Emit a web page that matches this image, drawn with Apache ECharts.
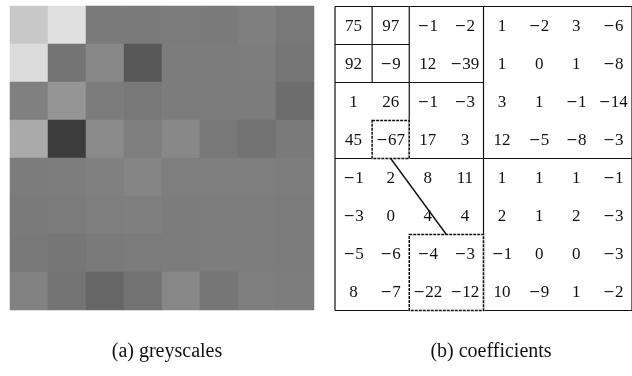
<!DOCTYPE html>
<html>
<head>
<meta charset="utf-8">
<script src="https://cdn.jsdelivr.net/npm/echarts@6/dist/echarts.min.js"></script>
<style>
  html, body { margin: 0; padding: 0; background: #fff; }
  #chart { width: 632px; height: 376px; }
</style>
</head>
<body>
<div id="chart"></div>
<script>
// 8x8 block: pixel grey levels (0 = black, 255 = white), row by row from the top
const greyRows = [
  [200, 224, 122, 122, 123, 122, 127, 120],
  [220, 116, 136,  88, 124, 124, 125, 118],
  [128, 149, 124, 120, 124, 124, 124, 109],
  [170,  60, 138, 126, 136, 120, 114, 122],
  [124, 125, 128, 133, 126, 126, 126, 125],
  [122, 123, 126, 127, 124, 125, 125, 123],
  [120, 118, 122, 123, 124, 125, 125, 124],
  [129, 116, 102, 114, 135, 118, 126, 125]
];

// Haar wavelet coefficients of the same block
const coeffRows = [
  [75,  97,  -1,  -2,  1, -2,  3,  -6],
  [92,  -9,  12, -39,  1,  0,  1,  -8],
  [ 1,  26,  -1,  -3,  3,  1, -1, -14],
  [45, -67,  17,   3, 12, -5, -8,  -3],
  [-1,   2,   8,  11,  1,  1,  1,  -1],
  [-3,   0,   4,   4,  2,  1,  2,  -3],
  [-5,  -6,  -4,  -3, -1,  0,  0,  -3],
  [ 8,  -7, -22, -12, 10, -9,  1,  -2]
];

// coefficient whose children (next finer level) are outlined
const parentCell = [3, 1]; // [row, col]

// wavelet decomposition levels shown by the partition rules
const levels = 3;

const captions = ['(a) greyscales', '(b) coefficients'];

const N = greyRows.length;
const idx = Array.from({ length: N }, (_, i) => String(i));

const heatData = [];
greyRows.forEach((row, r) => row.forEach((v, c) => heatData.push([c, r, v])));

const textData = [];
coeffRows.forEach((row, r) => row.forEach((v, c) => textData.push([c + 0.5, r + 0.5, v])));

// partition rules for each level: [x1, y1, x2, y2] in cell units
const ruleData = [];
ruleData.push([0, 0, N, 0], [0, N, N, N], [0, 0, 0, N], [N, 0, N, N]);
for (let k = 1; k <= levels; k++) {
  const s = N / Math.pow(2, k);
  ruleData.push([s, 0, s, 2 * s]);
  ruleData.push([0, s, 2 * s, s]);
}

const chart = echarts.init(document.getElementById('chart'), null, { renderer: 'canvas' });

const serif = 'Liberation Serif';
const ink = '#111';

chart.setOption({
  animation: false,
  backgroundColor: '#fff',
  grid: [
    { left: 10, top: 6, width: 304, height: 304 },
    { left: 335, top: 6.5, width: 304, height: 304 }
  ],
  xAxis: [
    { type: 'category', data: idx, gridIndex: 0, show: false },
    { type: 'value', min: 0, max: N, gridIndex: 1, show: false }
  ],
  yAxis: [
    { type: 'category', data: idx, gridIndex: 0, inverse: true, show: false },
    { type: 'value', min: 0, max: N, gridIndex: 1, inverse: true, show: false }
  ],
  visualMap: {
    show: false, min: 0, max: 255, seriesIndex: 0, dimension: 2,
    inRange: { color: ['#000000', '#ffffff'] }
  },
  title: [
    { text: captions[0], left: 162, textAlign: 'center', top: 337,
      textStyle: { fontFamily: serif, fontSize: 20, fontWeight: 'normal', color: ink } },
    { text: captions[1], left: 486, textAlign: 'center', top: 337,
      textStyle: { fontFamily: serif, fontSize: 20, fontWeight: 'normal', color: ink } }
  ],
  series: [
    {
      type: 'heatmap', xAxisIndex: 0, yAxisIndex: 0, data: heatData,
      itemStyle: { borderWidth: 0 }, emphasis: { disabled: true }
    },
    {
      // partition rules of the wavelet levels
      type: 'custom', xAxisIndex: 1, yAxisIndex: 1, data: ruleData, silent: true,
      renderItem(params, api) {
        const a = api.coord([api.value(0), api.value(1)]);
        const b = api.coord([api.value(2), api.value(3)]);
        return { type: 'line', shape: { x1: a[0], y1: a[1], x2: b[0], y2: b[1] },
          style: { stroke: ink, lineWidth: 1.2 } };
      }
    },
    {
      // outline of a coefficient and its four children, with the connector
      type: 'custom', xAxisIndex: 1, yAxisIndex: 1, data: [parentCell], silent: true,
      renderItem(params, api) {
        const r = api.value(0), c = api.value(1);
        const p0 = api.coord([c, r]), p1 = api.coord([c + 1, r + 1]);
        const q0 = api.coord([2 * c, 2 * r]), q1 = api.coord([2 * c + 2, 2 * r + 2]);
        const boxes = [[p0, p1], [q0, q1]];
        const children = [];
        boxes.forEach(([u, v]) => {
          const shape = { x: u[0], y: u[1], width: v[0] - u[0], height: v[1] - u[1] };
          children.push({ type: 'rect', shape, style: { fill: null, stroke: '#fff', lineWidth: 1.6 } });
          children.push({ type: 'rect', shape, style: { fill: null, stroke: ink, lineWidth: 1.5, lineDash: [3, 1] } });
        });
        children.push({ type: 'line',
          shape: { x1: (p0[0] + p1[0]) / 2, y1: p1[1], x2: (q0[0] + q1[0]) / 2, y2: q0[1] },
          style: { stroke: ink, lineWidth: 1.4 } });
        return { type: 'group', children };
      }
    },
    {
      // coefficient values centred in their cells, with a long minus sign
      type: 'custom', xAxisIndex: 1, yAxisIndex: 1, data: textData, silent: true,
      renderItem(params, api) {
        const v = api.value(2);
        const p = api.coord([api.value(0), api.value(1)]);
        const text = v < 0 ? '{m|\u2212}{d|' + Math.abs(v) + '}' : '{d|' + v + '}';
        return { type: 'text', x: p[0], y: p[1] + 1,
          style: { text, fill: ink, textAlign: 'center', textVerticalAlign: 'middle',
            rich: {
              d: { fontFamily: serif, fontSize: 17, color: ink },
              m: { fontFamily: 'DejaVu Serif', fontSize: 14, color: ink }
            } } };
      }
    }
  ]
});
</script>
</body>
</html>
